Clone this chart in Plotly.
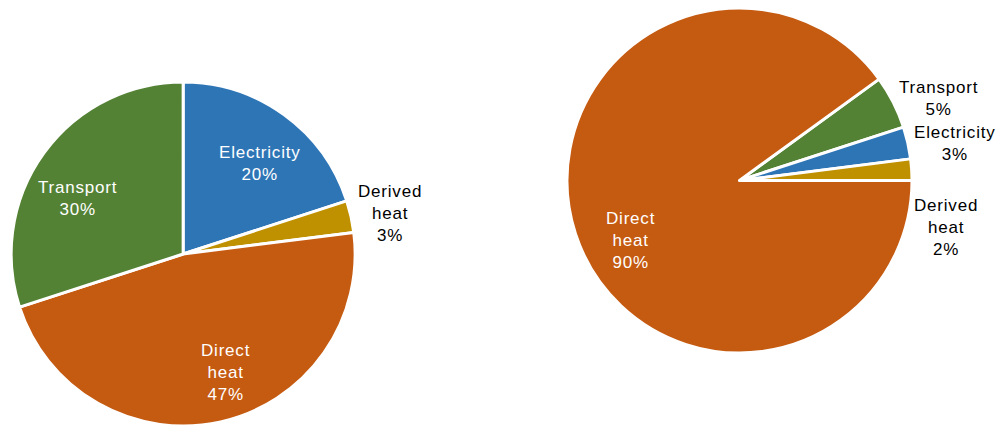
import plotly.graph_objects as go

# Sector shares (%) for the two pies
left_labels = ["Electricity", "Derived heat", "Direct heat", "Transport"]
left_values = [20, 3, 47, 30]

right_labels = ["Transport", "Electricity", "Derived heat", "Direct heat"]
right_values = [5, 3, 2, 90]

sector_colors = {
    "Electricity": "#2E75B6",
    "Derived heat": "#BF9000",
    "Direct heat": "#C55A11",
    "Transport": "#548235",
}

W, H = 998, 426
FONT = "Liberation Sans, Arial, Helvetica, sans-serif"
SPACED = "<span style='letter-spacing:0.8px'>{}</span>"

# where each slice's label sits (pixels from the top-left corner), and whether it is on the slice
left_label_pos = {"Electricity": (260, 163, True), "Derived heat": (390, 213, False),
                  "Direct heat": (225, 372, True), "Transport": (77, 198, True)}
right_label_pos = {"Transport": (938, 98, False), "Electricity": (955, 143, False),
                   "Derived heat": (946, 228, False), "Direct heat": (630, 240, True)}


def label_text(label, value, total):
    lines = label.split(" ") + [f"{round(100 * value / total)}%"]
    return "<br>".join(SPACED.format(s) for s in lines)


def pie(labels, values, rotation, domain):
    return go.Pie(
        labels=labels,
        values=values,
        textinfo="none",
        marker=dict(colors=[sector_colors[l] for l in labels],
                    line=dict(color="white", width=3)),
        sort=False,
        direction="clockwise",
        rotation=rotation,
        domain=domain,
        showlegend=False,
        hoverinfo="label+percent",
    )


def annotations(labels, values, positions):
    total = sum(values)
    out = []
    for lab, val in zip(labels, values):
        px, py, on_slice = positions[lab]
        out.append(dict(
            x=px / W, y=1 - py / H, xref="paper", yref="paper",
            xanchor="center", yanchor="middle", align="center",
            text=label_text(lab, val, total), showarrow=False,
            font=dict(family=FONT, size=17, color="white" if on_slice else "black"),
        ))
    return out


fig = go.Figure()
fig.add_trace(pie(left_labels, left_values, 0,
                  dict(x=[0.0, 0.367], y=[0.0, 0.8075])))
fig.add_trace(pie(right_labels, right_values, 54,
                  dict(x=[567 / W, 912 / W], y=[73 / H, 418 / H])))

fig.update_layout(
    margin=dict(l=0, r=0, t=0, b=0),
    paper_bgcolor="white",
    plot_bgcolor="white",
    font=dict(family=FONT),
    annotations=annotations(left_labels, left_values, left_label_pos)
    + annotations(right_labels, right_values, right_label_pos),
)

fig.write_html("out.html")
